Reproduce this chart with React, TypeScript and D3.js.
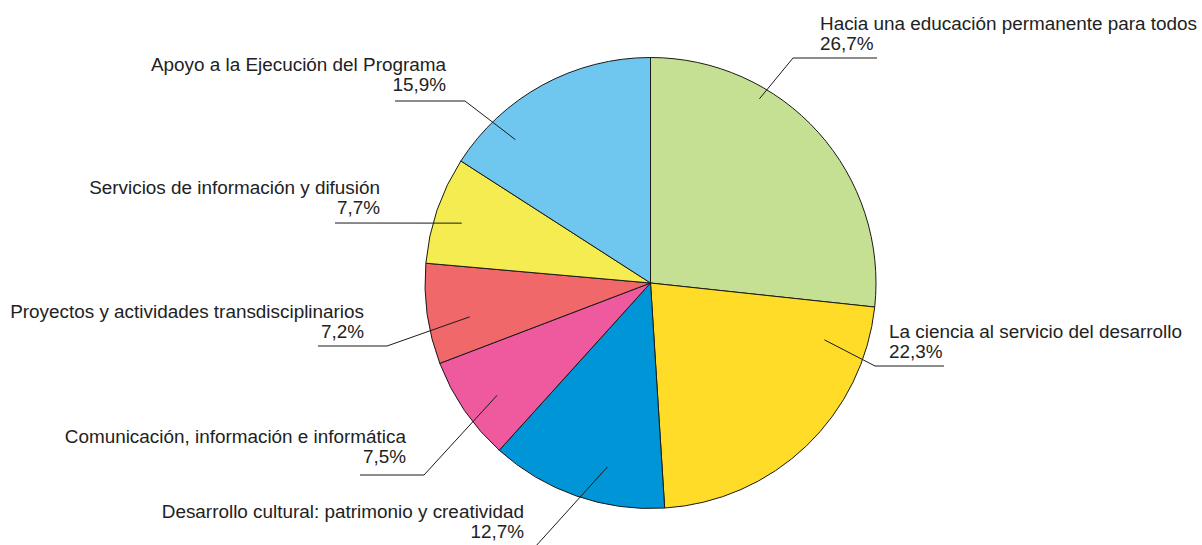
import React from "react";
import * as d3 from "d3";

const categories = [
  "Hacia una educación permanente para todos",
  "La ciencia al servicio del desarrollo",
  "Desarrollo cultural: patrimonio y creatividad",
  "Comunicación, información e informática",
  "Proyectos y actividades transdisciplinarios",
  "Servicios de información y difusión",
  "Apoyo a la Ejecución del Programa",
];
const values = [26.7, 22.3, 12.7, 7.5, 7.2, 7.7, 15.9];
const valueLabels = ["26,7%", "22,3%", "12,7%", "7,5%", "7,2%", "7,7%", "15,9%"];
const colors = ["#c5df93", "#ffdc28", "#0095d6", "#ef5a9f", "#f0686a", "#f4ec50", "#6fc7ef"];

// Annotation layout: leader start (angle deg clockwise from top, radius), elbow, end, label anchor
type Ann = { a: number; r: number; elbow: [number, number]; end: [number, number]; tx: number; ty: number; anchor: "start" | "end" };
const annotations: Ann[] = [
  { a: 30.6, r: 214, elbow: [793, 58], end: [877, 58], tx: 820, ty: 30, anchor: "start" },
  { a: 108.1, r: 183, elbow: [875, 366], end: [944, 366], tx: 889, ty: 338, anchor: "start" },
  { a: 193.2, r: 189, elbow: [535, 547], end: [470, 547], tx: 524, ty: 518, anchor: "end" },
  { a: 233.8, r: 190, elbow: [424, 475], end: [360, 475], tx: 406, ty: 443, anchor: "end" },
  { a: 259.4, r: 184, elbow: [387, 346], end: [318, 346], tx: 364, ty: 318, anchor: "end" },
  { a: 287.6, r: 198, elbow: [335, 223], end: [335, 223], tx: 380, ty: 194, anchor: "end" },
  { a: 316.7, r: 197, elbow: [465, 101], end: [395, 101], tx: 446, ty: 71, anchor: "end" },
];

const W = 1202;
const H = 545;
const cx = 650.5;
const cy = 283;
const R = 225.5;

export default function App() {
  const pie = d3.pie<number>().sort(null).value((d) => d);
  const arcs = pie(values);
  const arcGen = d3.arc<d3.PieArcDatum<number>>().innerRadius(0).outerRadius(R);
  const font = "'Liberation Sans', Arial, sans-serif";
  return (
    <svg width={W} height={H} style={{ position: "absolute", left: 0, top: 0 }} fontFamily={font}>
      <rect width={W} height={H} fill="#fff" />
      <g transform={`translate(${cx},${cy})`}>
        {arcs.map((a, i) => (
          <path key={i} d={arcGen(a) || ""} fill={colors[i]} stroke="#1a1a1a" strokeWidth={1} />
        ))}
      </g>
      {annotations.map((an, i) => {
        const rad = (an.a * Math.PI) / 180;
        const sx = cx + an.r * Math.sin(rad);
        const sy = cy - an.r * Math.cos(rad);
        const pts = `${sx},${sy} ${an.elbow[0]},${an.elbow[1]} ${an.end[0]},${an.end[1]}`;
        return (
          <g key={i}>
            <polyline points={pts} fill="none" stroke="#1a1a1a" strokeWidth={1} />
            <text x={an.tx} y={an.ty} textAnchor={an.anchor} fontSize={18.9} fill="#222">
              {categories[i]}
            </text>
            <text x={an.tx} y={an.ty + 20} textAnchor={an.anchor} fontSize={18.9} fill="#222">
              {valueLabels[i]}
            </text>
          </g>
        );
      })}
    </svg>
  );
}
